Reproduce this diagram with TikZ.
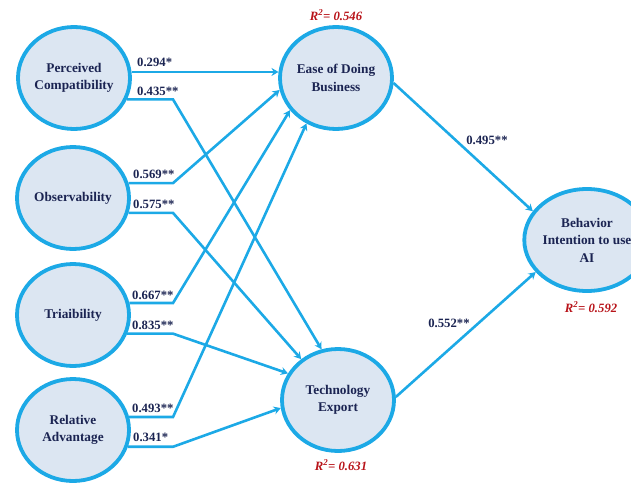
\documentclass[tikz,border=0pt]{standalone}
\usepackage{fontspec}
\setmainfont{Liberation Serif}
\usetikzlibrary{shapes.geometric,arrows.meta}
\definecolor{lineblue}{HTML}{1CA9E6}
\definecolor{fillblue}{HTML}{DCE6F2}
\definecolor{navy}{HTML}{1B2452}
\definecolor{rred}{HTML}{B8141A}
\tikzset{
  construct/.style={ellipse, draw=lineblue, line width=3.8pt, fill=fillblue,
    minimum width=112pt, minimum height=102pt, inner sep=0pt, align=center,
    text=navy, font=\fontsize{13.3}{17.5}\selectfont\bfseries},
  path/.style={draw=lineblue, line width=2.6pt, -{Stealth[length=7pt,width=8pt]}},
  coef/.style={text=navy, font=\fontsize{12.7}{14}\selectfont\bfseries, inner sep=0pt},
  rsq/.style={text=rred, font=\fontsize{12.7}{14}\selectfont\bfseries\itshape, inner sep=0pt}
}
\begin{document}
\begin{tikzpicture}[x=1pt,y=-1pt]
\path[use as bounding box] (0,0) rectangle (631,482);
\clip (0,0) rectangle (631,482);
% constructs
\node[construct] (pc)  at (74,78)  {Perceived\\Compatibility};
\node[construct] (obs) at (73,198) {Observability};
\node[construct] (tri) at (73,315) {Triaibility};
\node[construct] (ra)  at (73,430) {Relative\\Advantage};
\node[construct] (ebd) at (336,78) {Ease of Doing\\Business};
\node[construct] (te)  at (338,400) {Technology\\Export};
\node[construct] (bi)  at (587,240) {Behavior\\Intention to use\\AI};
\coordinate (bx) at (173,0);
% paths
\draw[path] (pc.6) -- (ebd.174);
\draw[path] (pc.-22) -- (pc.-22 -| bx) -- (te.108);
\draw[path] (obs.15) -- (obs.15 -| bx) -- (ebd.192);
\draw[path] (obs.-15) -- (obs.-15 -| bx) -- (te.132);
\draw[path] (tri.12) -- (tri.12 -| bx) -- (ebd.215);
\draw[path] (tri.-19) -- (tri.-19 -| bx) -- (te.152);
\draw[path] (ra.13) -- (ra.13 -| bx) -- (ebd.237);
\draw[path] (ra.-17) -- (ra.-17 -| bx) -- (te.188);
\draw[path] (ebd.-5) -- (bi.152);
\draw[path] (te.3) -- (bi.212);
% coefficients
\node[coef, anchor=west] (c1) at (137,62) {0.294*};
\node[coef, anchor=west] (c2) at (137,91) {0.435**};
\node[coef, anchor=west] (c3) at (133,174) {0.569**};
\node[coef, anchor=west] (c4) at (133,204) {0.575**};
\node[coef, anchor=west] (c5) at (132,295) {0.667**};
\node[coef, anchor=west] (c6) at (132,325) {0.835**};
\node[coef, anchor=west] (c7) at (132,408) {0.493**};
\node[coef, anchor=west] (c8) at (133,437) {0.341*};
\node[coef] (c9) at (487,140) {0.495**};
\node[coef] (c10) at (449,323) {0.552**};
% R squared
\node[rsq] (r1) at (336,15) {R\textsuperscript{2}= 0.546};
\node[rsq] (r2) at (591,307) {R\textsuperscript{2}= 0.592};
\node[rsq] (r3) at (341,465) {R\textsuperscript{2}= 0.631};
\end{tikzpicture}
\end{document}
